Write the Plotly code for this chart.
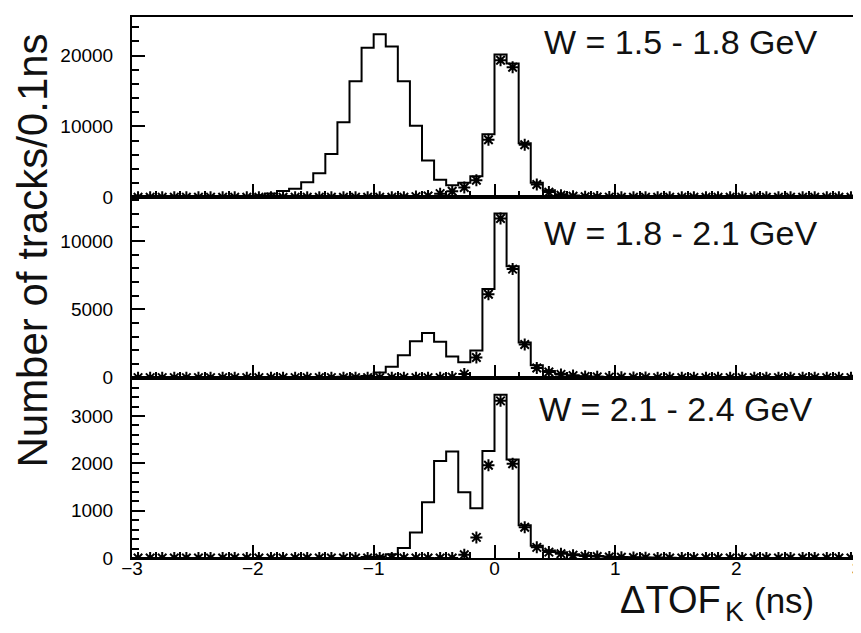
import numpy as np
import plotly.graph_objects as go
from plotly.subplots import make_subplots

# ---- data: 60 bins of 0.1 ns from -3 to 3 ----
bin_lo, bin_hi, bin_w = -3.0, 3.0, 0.1
x_tick_values = [-3, -2, -1, 0, 1, 2, 3]
panel_labels = ["W = 1.5 - 1.8 GeV", "W = 1.8 - 2.1 GeV", "W = 2.1 - 2.4 GeV"]

hist_w1 = [0, 0, 0, 0, 0, 0, 20, 30, 60, 100,
           300, 550, 880, 1220, 2140, 3400, 6100, 10600, 16400, 21100,
           23000, 21300, 16400, 10100, 5200, 2480, 1700, 2060, 2980, 8900,
           20150, 18900, 7650, 2060, 1000, 450, 250, 150, 100, 60,
           40, 30, 20, 15, 10, 10, 5, 5, 0, 0,
           0, 0, 0, 0, 0, 0, 0, 0, 0, 0]
kaon_w1 = [0, 0, 0, 0, 0, 0, 0, 0, 0, 0,
           0, 0, 0, 0, 0, 0, 0, 0, 0, 0,
           0, 0, 0, 100, 200, 520, 860, 1380, 2420, 8130,
           19350, 18370, 7420, 1820, 740, 300, 150, 80, 50, 30,
           20, 10, 0, 0, 0, 0, 0, 0, 0, 0,
           0, 0, 0, 0, 0, 0, 0, 0, 0, 0]

hist_w2 = [0, 0, 0, 0, 0, 0, 0, 0, 0, 0,
           0, 0, 0, 0, 0, 0, 0, 60, 80, 120,
           370, 790, 1640, 2670, 3260, 2620, 1540, 1130, 1980, 6490,
           12000, 8140, 2570, 900, 490, 290, 160, 100, 70, 50,
           30, 20, 15, 10, 5, 5, 0, 0, 0, 0,
           0, 0, 0, 0, 0, 0, 0, 0, 0, 0]
kaon_w2 = [0, 0, 0, 0, 0, 0, 0, 0, 0, 0,
           0, 0, 0, 0, 0, 0, 0, 0, 0, 0,
           0, 0, 0, 0, 0, 0, 40, 260, 1480, 6100,
           11640, 7940, 2430, 710, 420, 240, 150, 90, 60, 40,
           25, 15, 10, 0, 0, 0, 0, 0, 0, 0,
           0, 0, 0, 0, 0, 0, 0, 0, 0, 0]

hist_w3 = [0, 0, 0, 0, 0, 0, 0, 0, 0, 0,
           0, 0, 0, 0, 0, 0, 0, 0, 0, 20,
           30, 80, 210, 540, 1180, 2050, 2250, 1390, 1050, 2260,
           3450, 2080, 690, 260, 160, 120, 80, 60, 40, 30,
           20, 15, 10, 8, 5, 0, 0, 0, 0, 0,
           0, 0, 0, 0, 0, 0, 0, 0, 0, 0]
kaon_w3 = [0, 0, 0, 0, 0, 0, 0, 0, 0, 0,
           0, 0, 0, 0, 0, 0, 0, 0, 0, 0,
           0, 0, 0, 0, 0, 0, 0, 70, 435, 1960,
           3320, 1990, 650, 225, 125, 90, 60, 40, 30, 20,
           15, 10, 5, 0, 0, 0, 0, 0, 0, 0,
           0, 0, 0, 0, 0, 0, 0, 0, 0, 0]

y_max = [25450, 13190, 3810]
y_dtick = [10000, 5000, 1000]
y_minor = [2000, 1000, 200]

hists = [hist_w1, hist_w2, hist_w3]
kaons = [kaon_w1, kaon_w2, kaon_w3]

n_bins = len(hist_w1)
edges = np.round(bin_lo + bin_w * np.arange(n_bins + 1), 3)
centers = (edges[:-1] + edges[1:]) / 2

FONT = "Liberation Sans"

fig = make_subplots(rows=3, cols=1, vertical_spacing=0)

for r in range(3):
    h = hists[r]
    fig.add_trace(go.Scatter(
        x=list(edges), y=list(h) + [h[-1]], mode="lines", line_shape="hv",
        line=dict(color="black", width=2), showlegend=False, hoverinfo="skip"),
        row=r + 1, col=1)
    fig.add_trace(go.Scatter(
        x=list(centers), y=kaons[r], mode="markers",
        marker=dict(symbol="asterisk-open", size=10, color="black",
                    line=dict(color="black", width=2)),
        cliponaxis=True, showlegend=False),
        row=r + 1, col=1)

    fig.update_xaxes(
        range=[bin_lo, bin_hi], showline=True, mirror=True, linecolor="black", linewidth=2,
        ticks="inside", ticklen=13, tickwidth=2, tickcolor="black",
        tickmode="array", tickvals=x_tick_values,
        minor=dict(dtick=0.2, tick0=0, ticks="inside", ticklen=6, tickwidth=2, tickcolor="black"),
        showgrid=False, zeroline=False, showticklabels=(r == 2),
        ticklabeloverflow="allow",
        tickfont=dict(family=FONT, size=19, color="black"), ticklabelstandoff=-8,
        row=r + 1, col=1)
    fig.update_yaxes(
        range=[0, y_max[r]], showline=True, mirror=True, linecolor="black", linewidth=2,
        ticks="inside", ticklen=13, tickwidth=2, tickcolor="black", dtick=y_dtick[r], tick0=0,
        tickformat="d",
        minor=dict(dtick=y_minor[r], tick0=0, ticks="inside", ticklen=7, tickwidth=2, tickcolor="black"),
        showgrid=False, zeroline=False,
        tickfont=dict(family=FONT, size=19, color="black"), ticklabelstandoff=13,
        row=r + 1, col=1)

annots = []
label_pos = [(0.566, 0.953), (0.566, 0.600), (0.559, 0.275)]
for r in range(3):
    annots.append(dict(text=panel_labels[r], xref="paper", yref="paper",
                       x=label_pos[r][0], y=label_pos[r][1], xanchor="left", yanchor="middle",
                       showarrow=False, font=dict(family=FONT, size=34, color="#111")))
annots.append(dict(text="Number of tracks/0.1ns", xref="paper", yref="paper",
                   x=-0.1374, y=0.569, xanchor="center", yanchor="middle", textangle=-90,
                   borderpad=0,
                   showarrow=False, font=dict(family=FONT, size=42, color="#111")))
# x-axis title: ΔTOF_K (ns)
annots.append(dict(text="ΔTOF", xref="paper", yref="paper",
                   x=0.8146, y=-0.078, xanchor="right", yanchor="middle",
                   showarrow=False, font=dict(family=FONT, size=38, color="#111")))
annots.append(dict(text="K", xref="paper", yref="paper",
                   x=0.8146, y=-0.099, xanchor="left", yanchor="middle",
                   showarrow=False, font=dict(family=FONT, size=28, color="#111")))
annots.append(dict(text="(ns)", xref="paper", yref="paper",
                   x=0.855, y=-0.078, xanchor="left", yanchor="middle",
                   showarrow=False, font=dict(family=FONT, size=35, color="#111")))

fig.update_layout(
    width=861, height=633,
    margin=dict(l=124, r=9, t=7, b=83),
    paper_bgcolor="white", plot_bgcolor="white",
    annotations=annots, showlegend=False,
)

fig.write_html("out.html")
